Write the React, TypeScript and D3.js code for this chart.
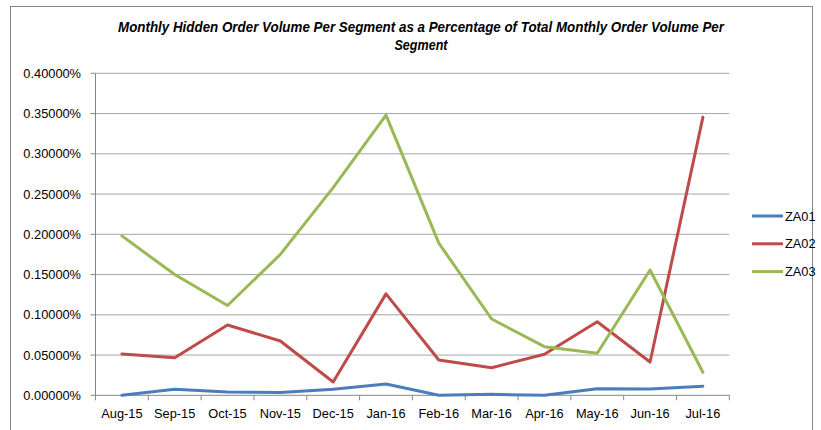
import React from "react";
import * as d3 from "d3";

const categories = ["Aug-15","Sep-15","Oct-15","Nov-15","Dec-15","Jan-16","Feb-16","Mar-16","Apr-16","May-16","Jun-16","Jul-16"];
const za01 = [0.0000, 0.0075, 0.0041, 0.0035, 0.0075, 0.0140, 0.0000, 0.0012, 0.0000, 0.0082, 0.0078, 0.0112];
const za02 = [0.0513, 0.0467, 0.0873, 0.0674, 0.0165, 0.1260, 0.0439, 0.0343, 0.0509, 0.0914, 0.0414, 0.3453];
const za03 = [0.1980, 0.1500, 0.1115, 0.1750, 0.2580, 0.3480, 0.1890, 0.0948, 0.0604, 0.0522, 0.1556, 0.0286];
const seriesNames = ["ZA01", "ZA02", "ZA03"];
const seriesColors = ["#4a7ebb", "#be4b48", "#98b954"];
const yTicks = [0, 0.05, 0.1, 0.15, 0.2, 0.25, 0.3, 0.35, 0.4];
const titleLines = ["Monthly Hidden Order Volume Per Segment as a Percentage of Total Monthly Order Volume Per", "Segment"];

export default function App() {
  const W = 821, H = 430;
  const left = 95.5, right = 729.3, top = 73.3, bottom = 395.3;
  const x = d3.scaleBand<string>().domain(categories).range([left, right]).padding(0);
  const y = d3.scaleLinear().domain([0, 0.4]).range([bottom, top]);
  const line = d3.line<number>()
    .x((_, i) => (x(categories[i]) as number) + x.bandwidth() / 2)
    .y((d) => y(d));
  const allSeries = [za01, za02, za03];
  const font = "'Liberation Sans', Arial, sans-serif";
  const boundaries = categories.map((c) => x(c) as number).concat([right]);
  return (
    <svg width={W} height={H} style={{ position: "absolute", left: 0, top: 0, background: "#fff" }}>
      <rect x={0} y={0} width={W} height={H} fill="#fff" />
      <rect x={10.5} y={6.5} width={802} height={440} fill="none" stroke="#868686" strokeWidth={1} />
      {titleLines.map((t, i) => (
        <text key={i} x={421} y={32 + i * 18} textAnchor="middle" fontFamily={font} fontSize={14}
          fontWeight="bold" fontStyle="italic" fill="#000"
          {...(i === 0 ? { textLength: 606, lengthAdjust: "spacingAndGlyphs" } : { textLength: 53, lengthAdjust: "spacingAndGlyphs" })}>{t}</text>
      ))}
      {yTicks.map((t) => (
        <g key={t}>
          {t > 0 && <line x1={left} x2={right} y1={y(t)} y2={y(t)} stroke="#a6a6a6" strokeWidth={1} />}
          <line x1={left - 5} x2={left} y1={y(t)} y2={y(t)} stroke="#868686" strokeWidth={1} />
          <text x={81} y={y(t) + 4.5} textAnchor="end" fontFamily={font} fontSize={12.8} fill="#000">
            {d3.format(".5f")(t) + "%"}
          </text>
        </g>
      ))}
      <line x1={left} x2={left} y1={top} y2={bottom} stroke="#868686" strokeWidth={1} />
      <line x1={left} x2={right} y1={bottom} y2={bottom} stroke="#868686" strokeWidth={1} />
      {boundaries.map((b, i) => (
        <line key={i} x1={b} x2={b} y1={bottom} y2={bottom + 5} stroke="#868686" strokeWidth={1} />
      ))}
      {categories.map((c) => (
        <text key={c} x={(x(c) as number) + x.bandwidth() / 2} y={418} textAnchor="middle" fontFamily={font} fontSize={12.8} fill="#000">{c}</text>
      ))}
      {allSeries.map((s, i) => (
        <path key={i} d={line(s) || ""} fill="none" stroke={seriesColors[i]} strokeWidth={3} strokeLinejoin="round" strokeLinecap="round" />
      ))}
      {seriesNames.map((n, i) => (
        <g key={n}>
          <line x1={752} x2={783} y1={216 + i * 27.8} y2={216 + i * 27.8} stroke={seriesColors[i]} strokeWidth={3} />
          <text x={785} y={216 + i * 27.8 + 4.5} fontFamily={font} fontSize={12.8} fill="#000">{n}</text>
        </g>
      ))}
    </svg>
  );
}
